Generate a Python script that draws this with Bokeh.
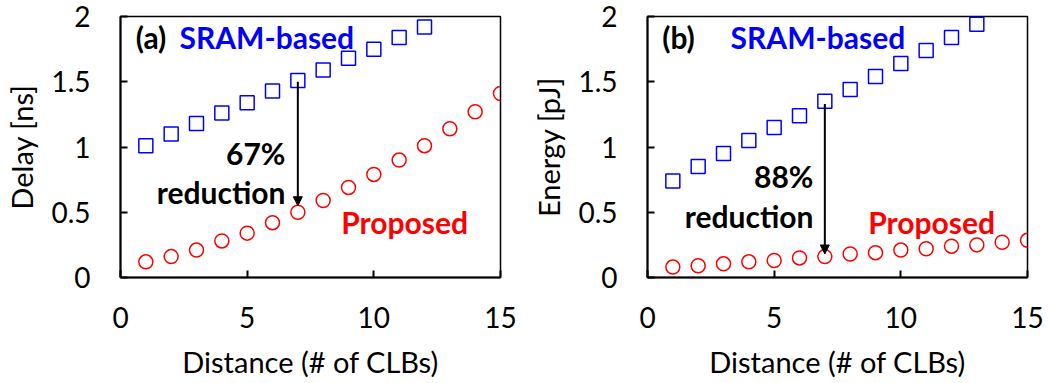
from bokeh.plotting import figure
from bokeh.layouts import row
from bokeh.models import Range1d, FixedTicker, Label, Arrow, NormalHead
from bokeh.embed import file_html
from bokeh.resources import INLINE

distance = list(range(1, 16))
delay_sram = [1.01, 1.10, 1.18, 1.26, 1.34, 1.43, 1.51, 1.59, 1.68, 1.75, 1.84, 1.92]
delay_prop = [0.12, 0.16, 0.21, 0.28, 0.34, 0.42, 0.50, 0.59, 0.69, 0.79, 0.90, 1.01, 1.14, 1.27, 1.41]
energy_sram = [0.74, 0.85, 0.95, 1.05, 1.15, 1.24, 1.35, 1.44, 1.54, 1.64, 1.74, 1.84, 1.94]
energy_prop = [0.08, 0.09, 0.105, 0.12, 0.13, 0.15, 0.16, 0.18, 0.19, 0.21, 0.22, 0.24, 0.25, 0.27, 0.285]
x_ticks = [0, 5, 10, 15]
y_ticks = [0, 0.5, 1, 1.5, 2]
y_tick_labels = ["0", "0.5", "1", "1.5", "2"]

FONT = "Lato"

def make_panel(ylabel, sram, prop, left, right, tag, tag_x, sram_x, pct, pct_y, red_y, arrow_top, arrow_bot, pct_x):
    p = figure(width=524, height=383, output_backend="svg", toolbar_location=None,
               x_range=Range1d(0, 15), y_range=Range1d(0, 2),
               min_border_left=left, min_border_right=right, min_border_top=16, min_border_bottom=106)
    p.xgrid.visible = False
    p.ygrid.visible = False
    p.outline_line_color = "black"
    p.outline_line_width = 1.5
    p.outline_line_alpha = 1
    p.background_fill_color = "white"
    p.border_fill_color = "white"

    p.xaxis.ticker = FixedTicker(ticks=x_ticks)
    p.yaxis.ticker = FixedTicker(ticks=y_ticks)
    p.yaxis.major_label_overrides = {t: l for t, l in zip(y_ticks, y_tick_labels)}
    for ax in (p.xaxis, p.yaxis):
        ax.axis_line_width = 2
        ax.axis_line_color = "black"
        ax.major_tick_in = 7
        ax.major_tick_out = 0
        ax.major_tick_line_width = 2
        ax.minor_tick_line_color = None
        ax.major_label_text_font = FONT
        ax.major_label_text_font_size = "28px"
        ax.major_label_text_color = "black"
        ax.axis_label_text_font = FONT
        ax.axis_label_text_font_size = "29px"
        ax.axis_label_text_font_style = "normal"
        ax.axis_label_text_color = "black"
    p.xaxis.major_label_standoff = 29
    p.xaxis.axis_label_standoff = 13
    p.yaxis.major_label_standoff = 30
    p.yaxis.axis_label_standoff = 9
    p.xaxis.axis_label = "Distance (# of CLBs)"
    p.yaxis.axis_label = ylabel

    p.scatter(distance[:len(sram)], sram, marker="square", size=14, fill_color=None,
              line_color="#0000ff", line_width=1.5)
    p.scatter(distance[:len(prop)], prop, marker="circle", size=14, fill_color=None,
              line_color="#ff0000", line_width=1.5)

    p.add_layout(Arrow(end=NormalHead(size=9, fill_color="black", line_color="black"),
                       x_start=7, y_start=arrow_top, x_end=7, y_end=arrow_bot,
                       line_width=2, line_color="black"))

    def lab(x, y, text, color, align="left"):
        p.add_layout(Label(x=x, y=y, text=text, text_color=color, text_font=FONT,
                           text_font_size="30px", text_font_style="bold",
                           text_align=align, text_baseline="middle"))
    lab(tag_x, 1.846, tag, "black")
    lab(sram_x, 1.846, "SRAM-based", "#0000ff")
    lab(pct_x, pct_y, pct, "black", "right")
    lab(pct_x, red_y, "reduction", "black", "right")
    lab(8.71, 0.423, "Proposed", "#ff0000")
    return p

pa = make_panel("Delay [ns]", delay_sram, delay_prop, 120, 24, "(a)", 0.6, 2.33,
                "67%", 0.954, 0.654, 1.50, 0.55, 6.51)
pb = make_panel("Energy [pJ]", energy_sram, energy_prop, 123, 21, "(b)", 0.58, 3.28,
                "88%", 0.777, 0.469, 1.33, 0.18, 6.55)

layout = row(pa, pb)
open("out.html", "w").write(file_html(layout, INLINE))
